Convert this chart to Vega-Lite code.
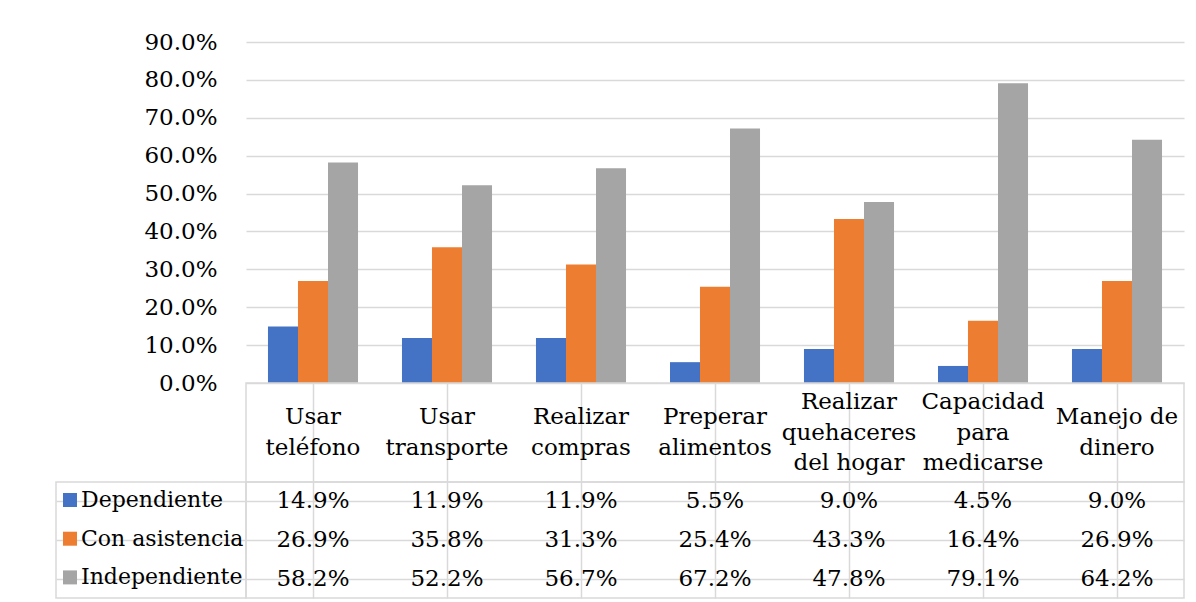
{
  "$schema": "https://vega.github.io/schema/vega-lite/v6.json",
  "padding": {"left": 55, "top": 31, "right": 10, "bottom": 5},
  "background": "white",
  "datasets": {
    "vals": [
      {"cat": "Usar teléfono", "series": "Dependiente", "value": 0.149},
      {"cat": "Usar teléfono", "series": "Con asistencia", "value": 0.269},
      {"cat": "Usar teléfono", "series": "Independiente", "value": 0.582},
      {"cat": "Usar transporte", "series": "Dependiente", "value": 0.119},
      {"cat": "Usar transporte", "series": "Con asistencia", "value": 0.358},
      {"cat": "Usar transporte", "series": "Independiente", "value": 0.522},
      {"cat": "Realizar compras", "series": "Dependiente", "value": 0.119},
      {"cat": "Realizar compras", "series": "Con asistencia", "value": 0.313},
      {"cat": "Realizar compras", "series": "Independiente", "value": 0.567},
      {"cat": "Preperar alimentos", "series": "Dependiente", "value": 0.055},
      {"cat": "Preperar alimentos", "series": "Con asistencia", "value": 0.254},
      {"cat": "Preperar alimentos", "series": "Independiente", "value": 0.672},
      {"cat": "Realizar quehaceres del hogar", "series": "Dependiente", "value": 0.09},
      {"cat": "Realizar quehaceres del hogar", "series": "Con asistencia", "value": 0.433},
      {"cat": "Realizar quehaceres del hogar", "series": "Independiente", "value": 0.478},
      {"cat": "Capacidad para medicarse", "series": "Dependiente", "value": 0.045},
      {"cat": "Capacidad para medicarse", "series": "Con asistencia", "value": 0.164},
      {"cat": "Capacidad para medicarse", "series": "Independiente", "value": 0.791},
      {"cat": "Manejo de dinero", "series": "Dependiente", "value": 0.09},
      {"cat": "Manejo de dinero", "series": "Con asistencia", "value": 0.269},
      {"cat": "Manejo de dinero", "series": "Independiente", "value": 0.642}
    ],
    "lines": [
      {"cat": "Usar teléfono", "pos": 0.5, "text": "Usar"},
      {"cat": "Usar teléfono", "pos": -0.5, "text": "teléfono"},
      {"cat": "Usar transporte", "pos": 0.5, "text": "Usar"},
      {"cat": "Usar transporte", "pos": -0.5, "text": "transporte"},
      {"cat": "Realizar compras", "pos": 0.5, "text": "Realizar"},
      {"cat": "Realizar compras", "pos": -0.5, "text": "compras"},
      {"cat": "Preperar alimentos", "pos": 0.5, "text": "Preperar"},
      {"cat": "Preperar alimentos", "pos": -0.5, "text": "alimentos"},
      {"cat": "Realizar quehaceres del hogar", "pos": 1, "text": "Realizar"},
      {"cat": "Realizar quehaceres del hogar", "pos": 0, "text": "quehaceres"},
      {"cat": "Realizar quehaceres del hogar", "pos": -1, "text": "del hogar"},
      {"cat": "Capacidad para medicarse", "pos": 1, "text": "Capacidad"},
      {"cat": "Capacidad para medicarse", "pos": 0, "text": "para"},
      {"cat": "Capacidad para medicarse", "pos": -1, "text": "medicarse"},
      {"cat": "Manejo de dinero", "pos": 0.5, "text": "Manejo de"},
      {"cat": "Manejo de dinero", "pos": -0.5, "text": "dinero"}
    ],
    "series": [
      {"series": "Dependiente"},
      {"series": "Con asistencia"},
      {"series": "Independiente"}
    ]
  },
  "columns": 2,
  "spacing": 0,
  "align": "each",
  "bounds": "flush",
  "concat": [
    {
      "data": {"values": []},
      "width": 190, "height": 341,
      "view": {"stroke": null},
      "mark": "point",
      "encoding": {}
    },
    {
      "data": {"name": "vals"},
      "width": 938, "height": 341,
      "view": {"stroke": null},
      "mark": {"type": "bar"},
      "encoding": {
        "x": {"field": "cat", "type": "nominal",
          "sort": ["Usar teléfono", "Usar transporte", "Realizar compras", "Preperar alimentos", "Realizar quehaceres del hogar", "Capacidad para medicarse", "Manejo de dinero"],
          "scale": {"paddingInner": 0.328, "paddingOuter": 0.164}, "axis": null},
        "xOffset": {"field": "series", "type": "nominal",
          "sort": ["Dependiente", "Con asistencia", "Independiente"],
          "scale": {"paddingInner": 0, "paddingOuter": 0}},
        "y": {"field": "value", "type": "quantitative",
          "scale": {"domain": [0, 0.9], "nice": false, "zero": true},
          "axis": {"values": [0, 0.1, 0.2, 0.3, 0.4, 0.5, 0.6, 0.7, 0.8, 0.9], "format": ".1%",
            "grid": true, "domain": false, "ticks": false, "tickSize": 0, "labelPadding": 29,
            "labelFontSize": 23, "labelColor": "#000000",
            "title": null, "gridColor": "#d9d9d9", "gridWidth": 1.5}},
        "color": {"field": "series", "type": "nominal",
          "scale": {"domain": ["Dependiente", "Con asistencia", "Independiente"], "range": ["#4472c4", "#ed7d31", "#a5a5a5"]},
          "legend": {"title": null, "orient": "none", "legendX": 3, "legendY": 447, "offset": 0,
            "symbolType": "square", "symbolSize": 196, "symbolStrokeWidth": 0,
            "labelFontSize": 22, "labelColor": "#000000",
            "labelOffset": 0, "rowPadding": 16.7, "padding": 0, "labelLimit": 300}}
      }
    },
    {
      "data": {"values": []},
      "width": 190, "height": 99,
      "view": {"stroke": null},
      "mark": "point",
      "encoding": {}
    },
    {
      "data": {"name": "lines"},
      "width": 938, "height": 99,
      "view": {"stroke": "#d9d9d9", "strokeWidth": 1.5},
      "mark": {"type": "text", "fontSize": 23, "color": "#000000", "baseline": "middle", "align": "center"},
      "encoding": {
        "x": {"field": "cat", "type": "nominal",
          "sort": ["Usar teléfono", "Usar transporte", "Realizar compras", "Preperar alimentos", "Realizar quehaceres del hogar", "Capacidad para medicarse", "Manejo de dinero"],
          "scale": {"paddingInner": 0, "paddingOuter": 0},
          "axis": {"grid": true, "bandPosition": 0, "labels": false, "ticks": false, "domain": false, "title": null, "gridColor": "#d9d9d9", "gridWidth": 1.5}},
        "y": {"field": "pos", "type": "quantitative", "scale": {"domain": [-1.6, 1.6], "nice": false, "zero": false}, "axis": null},
        "text": {"field": "text", "type": "nominal"}
      }
    },
    {
      "data": {"name": "series"},
      "width": 190, "height": 116,
      "view": {"stroke": "#d9d9d9", "strokeWidth": 1.5},
      "mark": {"type": "point", "opacity": 0},
      "encoding": {
        "y": {"field": "series", "type": "nominal",
          "sort": ["Dependiente", "Con asistencia", "Independiente"],
          "scale": {"paddingInner": 0, "paddingOuter": 0},
          "axis": {"grid": true, "bandPosition": 0, "labels": false, "ticks": false, "domain": false, "title": null, "gridColor": "#d9d9d9", "gridWidth": 1.5}}
      }
    },
    {
      "data": {"name": "vals"},
      "width": 938, "height": 116,
      "view": {"stroke": "#d9d9d9", "strokeWidth": 1.5},
      "mark": {"type": "text", "fontSize": 23, "color": "#000000", "baseline": "middle", "align": "center"},
      "encoding": {
        "x": {"field": "cat", "type": "nominal",
          "sort": ["Usar teléfono", "Usar transporte", "Realizar compras", "Preperar alimentos", "Realizar quehaceres del hogar", "Capacidad para medicarse", "Manejo de dinero"],
          "scale": {"paddingInner": 0, "paddingOuter": 0},
          "axis": {"grid": true, "bandPosition": 0, "labels": false, "ticks": false, "domain": false, "title": null, "gridColor": "#d9d9d9", "gridWidth": 1.5}},
        "y": {"field": "series", "type": "nominal",
          "sort": ["Dependiente", "Con asistencia", "Independiente"],
          "scale": {"paddingInner": 0, "paddingOuter": 0},
          "axis": {"grid": true, "bandPosition": 0, "labels": false, "ticks": false, "domain": false, "title": null, "gridColor": "#d9d9d9", "gridWidth": 1.5}},
        "text": {"field": "value", "type": "quantitative", "format": ".1%"}
      }
    }
  ],
  "config": {
    "font": "DejaVu Serif",
    "text": {"font": "DejaVu Serif"},
    "axis": {"labelFont": "DejaVu Serif"},
    "legend": {"labelFont": "DejaVu Serif"},
    "view": {"stroke": null}
  }
}
